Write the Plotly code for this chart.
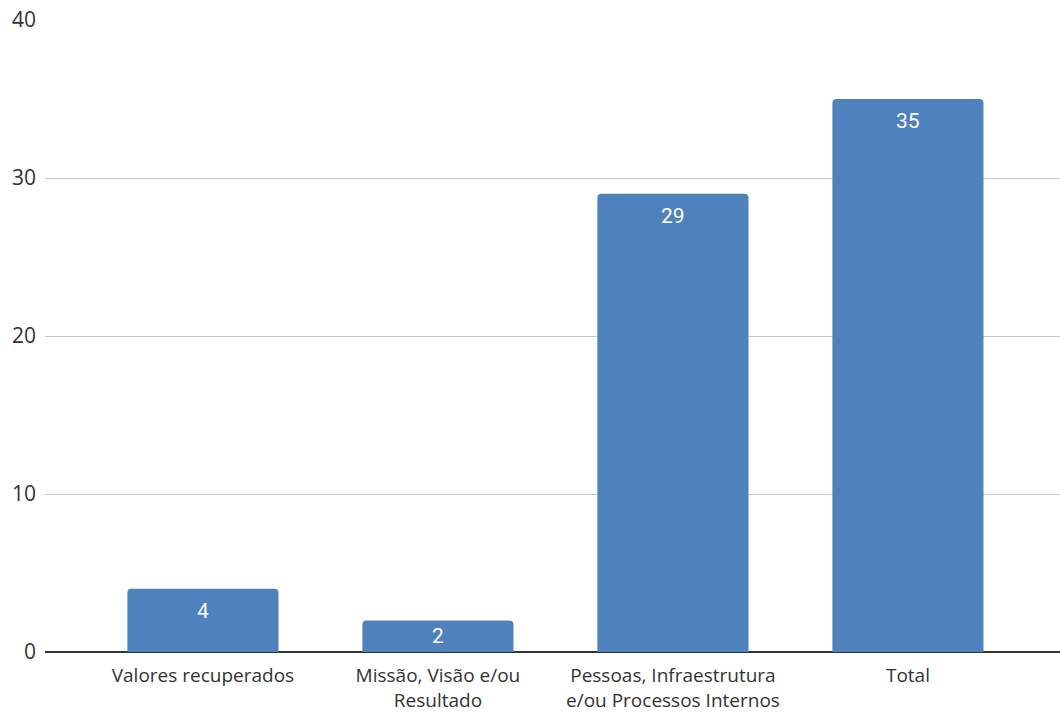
import plotly.graph_objects as go

categories = ["Valores recuperados", "Missão, Visão e/ou<br>Resultado",
              "Pessoas, Infraestrutura<br>e/ou Processos Internos", "Total"]
values = [4, 2, 29, 35]
y_ticks = [0, 10, 20, 30, 40]

xs = list(range(len(categories)))
fig = go.Figure(go.Bar(
    x=xs, y=values,
    marker=dict(color="#4f81bd", line=dict(width=0), cornerradius=4),
    width=0.643,
))

px_per_unit = 632 / 40
for x, v in zip(xs, values):
    shift = min(8, max(0, (v * px_per_unit - 28) / 2))
    fig.add_annotation(x=x, y=v, text=str(v), showarrow=False,
                       yanchor="top", yshift=-shift,
                       font=dict(family="Roboto", size=21, color="white"))

fig.update_layout(
    width=1060, height=713,
    margin=dict(l=45, r=0, t=20, b=61),
    paper_bgcolor="white", plot_bgcolor="white",
    showlegend=False,
)
fig.update_xaxes(
    range=[-0.672, 3.647], tickmode="array",
    tickvals=xs, ticktext=categories,
    tickfont=dict(family="Open Sans", size=19, color="#333333"),
    showgrid=False, zeroline=False, showline=False, ticks="",
    ticklabelstandoff=10, automargin=False,
)
fig.update_yaxes(
    range=[0, 40], tickmode="array", tickvals=y_ticks,
    tickfont=dict(family="Open Sans", size=21, color="#333333"),
    showgrid=True, gridcolor="#c8c8c8", gridwidth=1,
    zeroline=True, zerolinecolor="#333333", zerolinewidth=2,
    ticks="", ticklabelstandoff=8, automargin=False,
)

fig.write_html("out.html")
